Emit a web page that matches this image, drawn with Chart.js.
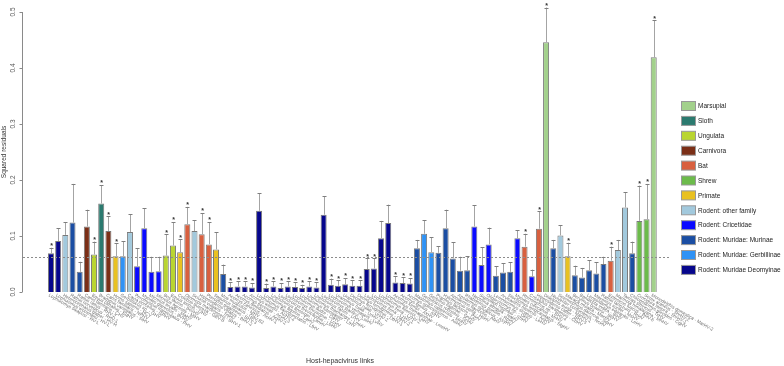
<!DOCTYPE html>
<html lang="en">
<head>
<meta charset="utf-8">
<title>Squared residuals of host-hepacivirus links</title>
<script src="https://cdn.jsdelivr.net/npm/chart.js"></script>
<style>
  html, body { margin: 0; padding: 0; background: #fff; }
</style>
</head>
<body>
<canvas id="chart" width="784" height="366"></canvas>
<script>
var links = [
  "Lophuromys sikapusi - HV-L", "Lophuromys woosnami - HV-L", "Heterocephalus glaber - HV-H", "Rattus norvegicus - RHV-1", "Rattus rattus - RHV-2",
  "Canis familiaris - CHV", "Equus caballus - EqHV", "Bradypus variegatus - SlHV", "Canis familiaris - NPHV", "Homo sapiens - HCV",
  "Gerbilliscus sp. - GHV", "Cavia porcellus - GPHV", "Peromyscus maniculatus - PHV", "Myodes glareolus - BVHV", "Microtus arvalis - MaHV",
  "Microtus agrestis - MiHV", "Bos taurus - BovHV", "Equus asinus - DHV", "Colobus guereza - GBV-B", "Otomops martiensseni - BHV-1",
  "Sciurus vulgaris - SqHV", "Hipposideros vittatus - BHV-2", "Pteropus giganteus - BHV-3", "Saguinus labiatus - GBV-B2", "Mus musculus - MHV",
  "Acomys cahirinus - AcHV-1", "Acomys dimidiatus - AcHV-2", "Acomys percivali - AcHV-3", "Acomys wilsoni - AcHV-4", "Lophuromys flavopunctatus - LfHV",
  "Lophuromys aquilus - LaHV", "Lophuromys ansorgei - LanHV", "Lophuromys brevicaudus - LbHV", "Lophuromys chrysopus - LcHV", "Lophuromys dudui - LdHV",
  "Lophuromys luteogaster - LlHV", "Lophuromys machangui - LmHV", "Lophuromys rahmi - LrHV", "Lophuromys stanleyi - LstHV", "Lophuromys verhageni - LvHV",
  "Uranomys ruddi - UrHV-1", "Uranomys ruddi - UrHV-2", "Deomys ferrugineus - DfHV-1", "Deomys ferrugineus - DfHV-2", "Lophuromys zena - LzHV-1",
  "Lophuromys zena - LzHV-2", "Lophuromys kilonzoi - LkHV", "Lophuromys menageshae - LmeHV", "Acomys kempi - AkHV", "Acomys ignitus - AiHV",
  "Acomys spinosissimus - AsHV", "Mastomys natalensis - MnHV", "Gerbilliscus robustus - GrHV", "Gerbillus nigeriae - GnHV", "Praomys jacksoni - PjHV",
  "Hylomyscus stella - HsHV", "Apodemus flavicollis - AfHV", "Apodemus sylvaticus - AsyHV", "Rhabdomys pumilio - RpHV", "Neotoma albigula - NaHV",
  "Sigmodon hispidus - ShHV", "Oligoryzomys sp. - OHV", "Lemniscomys striatus - LeHV", "Arvicanthis niloticus - AnHV", "Stochomys longicaudatus - SlgHV",
  "Myodes rufocanus - MrHV", "Rhinolophus sp. - BHV-4", "Cricetulus barabensis - CbHV", "Hipposideros caffer - BHV-5", "Didelphis aurita - MarHV-1",
  "Niviventer confucianus - NcHV", "Spermophilus dauricus - SdHV", "Macaca mulatta - MacHV", "Berylmys bowersi - BbHV", "Bandicota indica - BiHV",
  "Leopoldamys edwardsi - LeHV", "Maxomys surifer - MsHV", "Rattus tanezumi - RtHV", "Eptesicus fuscus - BHV-6", "Marmota himalayana - MhHV",
  "Tamias sibiricus - TsHV", "Chiropodomys gliroides - CgHV", "Crocidura lasiura - ShrHV-1", "Sorex araneus - ShrHV-2", "Monodelphis domestica - MarHV-2"
];

// index into groupNames / groupColors
var groups = [
  11, 11, 7, 9, 9, 3, 2, 1, 3, 6,
  10, 7, 8, 8, 8, 8, 2, 2, 6, 4,
  7, 4, 4, 6, 9, 11, 11, 11, 11, 11,
  11, 11, 11, 11, 11, 11, 11, 11, 11, 11,
  11, 11, 11, 11, 11, 11, 11, 11, 11, 11,
  11, 9, 10, 10, 9, 9, 9, 9, 9, 8,
  8, 8, 9, 9, 9, 8, 4, 8, 4, 0,
  9, 7, 6, 9, 9, 9, 9, 9, 4, 7,
  7, 9, 5, 5, 0
];

var residuals = [
  0.069, 0.091, 0.102, 0.124, 0.036, 0.117, 0.067, 0.158, 0.109, 0.064,
  0.064, 0.107, 0.046, 0.114, 0.036, 0.037, 0.065, 0.083, 0.071, 0.121,
  0.109, 0.103, 0.085, 0.076, 0.032, 0.009, 0.010, 0.010, 0.008, 0.145,
  0.007, 0.010, 0.007, 0.010, 0.009, 0.007, 0.010, 0.008, 0.138, 0.013,
  0.011, 0.014, 0.011, 0.011, 0.041, 0.042, 0.096, 0.123, 0.017, 0.016,
  0.015, 0.078, 0.104, 0.071, 0.070, 0.114, 0.060, 0.038, 0.039, 0.117,
  0.048, 0.085, 0.029, 0.035, 0.036, 0.096, 0.081, 0.028, 0.113, 0.446,
  0.078, 0.101, 0.064, 0.030, 0.026, 0.039, 0.033, 0.050, 0.056, 0.075,
  0.151, 0.069, 0.127, 0.130, 0.419
];

var upperError = [
  0.079, 0.114, 0.125, 0.193, 0.054, 0.147, 0.090, 0.191, 0.135, 0.087,
  0.091, 0.139, 0.078, 0.150, 0.063, 0.063, 0.103, 0.125, 0.094, 0.152,
  0.128, 0.141, 0.125, 0.107, 0.049, 0.017, 0.019, 0.019, 0.016, 0.176,
  0.015, 0.019, 0.016, 0.019, 0.017, 0.013, 0.019, 0.017, 0.171, 0.024,
  0.021, 0.025, 0.021, 0.021, 0.060, 0.060, 0.127, 0.156, 0.028, 0.026,
  0.025, 0.093, 0.128, 0.098, 0.082, 0.147, 0.089, 0.063, 0.064, 0.155,
  0.080, 0.115, 0.046, 0.051, 0.053, 0.110, 0.104, 0.040, 0.144, 0.508,
  0.093, 0.119, 0.088, 0.047, 0.043, 0.057, 0.053, 0.063, 0.081, 0.093,
  0.178, 0.090, 0.190, 0.193, 0.485
];

var significant = [
  1, 0, 0, 0, 0, 0, 1, 1, 1, 1,
  0, 0, 0, 0, 0, 0, 1, 1, 1, 1,
  0, 1, 1, 0, 0, 1, 1, 1, 1, 0,
  1, 1, 1, 1, 1, 1, 1, 1, 0, 1,
  1, 1, 1, 1, 1, 1, 0, 0, 1, 1,
  1, 0, 0, 0, 0, 0, 0, 0, 0, 0,
  0, 0, 0, 0, 0, 0, 1, 0, 1, 1,
  0, 0, 1, 0, 0, 0, 0, 0, 1, 0,
  0, 0, 1, 1, 1
];

var groupNames = [
  "Marsupial", "Sloth", "Ungulata", "Carnivora", "Bat", "Shrew", "Primate",
  "Rodent: other family", "Rodent: Cricetidae", "Rodent: Muridae: Murinae",
  "Rodent: Muridae: Gerbillinae", "Rodent: Muridae Deomyinae"
];
var groupColors = [
  "#a3d18c", "#2b7a6f", "#b9d530", "#7b2f17", "#d8603f", "#6cbb4b", "#e9c121",
  "#a2c9dd", "#0a0aff", "#1b4ea3", "#2f92f5", "#06068c"
];

var yTicks = [0, 0.1, 0.2, 0.3, 0.4, 0.5];
var meanResidual = 0.0625;

var FONT = '"Liberation Sans", Arial, Helvetica, sans-serif';

var decor = {
  id: 'decor',
  afterDatasetsDraw: function(chart) {
    var ctx = chart.ctx;
    var ys = chart.scales.y;
    var area = chart.chartArea;
    var bars = chart.getDatasetMeta(0).data;
    ctx.save();

    // y axis, R style
    var y0 = ys.getPixelForValue(yTicks[0]);
    var y1 = ys.getPixelForValue(yTicks[yTicks.length - 1]);
    var ax = Math.round(area.left) - 0.5;
    ctx.strokeStyle = '#8a8a8a';
    ctx.lineWidth = 1;
    ctx.beginPath();
    ctx.moveTo(ax, y0);
    ctx.lineTo(ax, y1);
    yTicks.forEach(function(t) {
      var py = Math.round(ys.getPixelForValue(t)) + 0.5;
      ctx.moveTo(ax, py);
      ctx.lineTo(ax - 3, py);
    });
    ctx.stroke();
    ctx.fillStyle = '#555';
    ctx.font = '6.5px ' + FONT;
    ctx.textAlign = 'center';
    ctx.textBaseline = 'middle';
    yTicks.forEach(function(t) {
      ctx.save();
      ctx.translate(ax - 9.5, ys.getPixelForValue(t));
      ctx.rotate(-Math.PI / 2);
      ctx.fillText(t.toFixed(1), 0, 0);
      ctx.restore();
    });
    ctx.save();
    ctx.translate(4.5, (y0 + y1) / 2);
    ctx.rotate(-Math.PI / 2);
    ctx.fillStyle = '#333';
    ctx.font = '6.5px ' + FONT;
    ctx.fillText('Squared residuals', 0, 0);
    ctx.restore();

    // mean line
    var my = Math.round(ys.getPixelForValue(meanResidual)) + 0.5;
    ctx.strokeStyle = '#8c8c8c';
    ctx.setLineDash([2, 2]);
    ctx.beginPath();
    ctx.moveTo(area.left, my);
    ctx.lineTo(area.right, my);
    ctx.stroke();
    ctx.setLineDash([]);

    // error bars and stars
    bars.forEach(function(bar, i) {
      var cx = Math.round(bar.x) + 0.5;
      var top = ys.getPixelForValue(upperError[i]);
      ctx.strokeStyle = '#a4a4a4';
      ctx.beginPath();
      ctx.moveTo(cx, bar.y);
      ctx.lineTo(cx, top);
      ctx.stroke();
      ctx.strokeStyle = '#7e7e7e';
      ctx.beginPath();
      ctx.moveTo(cx - 2, Math.round(top) + 0.5);
      ctx.lineTo(cx + 2, Math.round(top) + 0.5);
      ctx.stroke();
      if (significant[i]) {
        ctx.fillStyle = '#333';
        ctx.font = 'bold 7px ' + FONT;
        ctx.textAlign = 'center';
        ctx.textBaseline = 'middle';
        ctx.fillText('*', cx, top - 1.5);
      }
    });

    // slanted category labels
    ctx.fillStyle = '#6e6e6e';
    ctx.font = '4.6px ' + FONT;
    ctx.textAlign = 'left';
    ctx.textBaseline = 'middle';
    bars.forEach(function(bar, i) {
      ctx.save();
      ctx.translate(bar.x - 2, area.bottom + 3);
      ctx.rotate(0.52);
      ctx.fillText(links[i], 0, 0);
      ctx.restore();
    });

    // x axis title
    ctx.fillStyle = '#333';
    ctx.font = '7px ' + FONT;
    ctx.textAlign = 'center';
    ctx.fillText('Host-hepacivirus links', 340, 361);

    // legend
    ctx.font = '6.5px ' + FONT;
    ctx.textAlign = 'left';
    groupNames.forEach(function(name, g) {
      var cy = 106 + g * 14.9;
      ctx.fillStyle = groupColors[g];
      ctx.fillRect(681, cy - 4.5, 14.5, 9);
      ctx.strokeStyle = '#999';
      ctx.strokeRect(681.5, cy - 4.5, 14, 9);
      ctx.fillStyle = '#222';
      ctx.fillText(name, 698, cy + 0.5);
    });

    ctx.restore();
  }
};

new Chart(document.getElementById('chart'), {
  type: 'bar',
  data: {
    datasets: [{
      data: residuals.map(function(v, i) { return { x: i + 1, y: v }; }),
      backgroundColor: groups.map(function(g) { return groupColors[g]; }),
      borderColor: '#7a7a7a',
      borderWidth: 1,
      barPercentage: 0.84,
      categoryPercentage: 1
    }]
  },
  options: {
    responsive: false,
    animation: false,
    layout: { padding: { left: 23, right: 114, top: 12, bottom: 74 } },
    scales: {
      x: { type: 'linear', min: -2.9, max: 87.27, offset: false, display: false },
      y: { min: 0, max: 0.5, display: false }
    },
    plugins: {
      legend: { display: false },
      tooltip: { enabled: false }
    }
  },
  plugins: [decor]
});
</script>
</body>
</html>
